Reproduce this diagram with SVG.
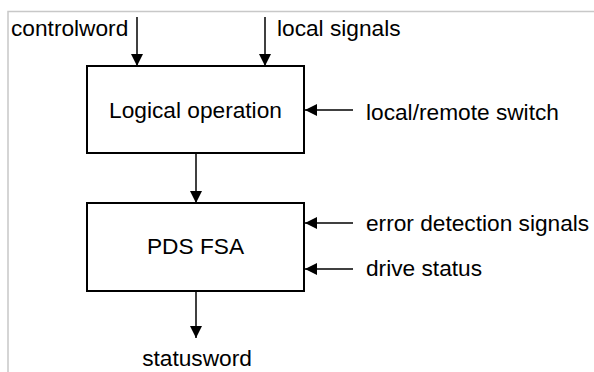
<svg xmlns="http://www.w3.org/2000/svg" width="594" height="372" viewBox="0 0 594 372">
<style>
text{font-family:"Liberation Sans",Arial,sans-serif;font-size:22.7px;fill:#000}
.box{fill:#fff;stroke:#000;stroke-width:2}
.c{stroke:#000;stroke-width:1.5;fill:none;marker-end:url(#ah)}
.frame{stroke:#c8c8c8;stroke-width:1.5;fill:none}
</style>
<defs>
<marker id="ah" viewBox="0 0 12 12" refX="12" refY="6" markerWidth="12" markerHeight="12" markerUnits="userSpaceOnUse" orient="auto">
<path d="M0,0 L12,6 L0,12 Z" fill="#000"/>
</marker>
</defs>
<rect width="594" height="372" fill="#fff"/>
<path class="frame" d="M8,372 V11.5 H594"/>
<g id="connectors">
<line class="c" x1="137" y1="17" x2="137" y2="66"/>
<line class="c" x1="265" y1="17" x2="265" y2="66"/>
<line class="c" x1="353" y1="110" x2="305" y2="110"/>
<line class="c" x1="196" y1="153" x2="196" y2="203"/>
<line class="c" x1="353" y1="223" x2="305" y2="223"/>
<line class="c" x1="353" y1="269" x2="305" y2="269"/>
<line class="c" x1="196" y1="291" x2="196" y2="338"/>
</g>
<g id="logical">
<rect class="box" x="87" y="66" width="217" height="87"/>
<text x="195.5" y="118" text-anchor="middle">Logical operation</text>
</g>
<g id="pdsfsa">
<rect class="box" x="87" y="203" width="217" height="88"/>
<text x="195.5" y="254" text-anchor="middle">PDS FSA</text>
</g>
<g id="controlword"><text x="11" y="36">controlword</text></g>
<g id="localsignals"><text x="277" y="36">local signals</text></g>
<g id="localremote"><text x="366" y="120">local/remote switch</text></g>
<g id="errordetection"><text x="366" y="231">error detection signals</text></g>
<g id="drivestatus"><text x="366" y="276">drive status</text></g>
<g id="statusword"><text x="197" y="366" text-anchor="middle">statusword</text></g>
</svg>
